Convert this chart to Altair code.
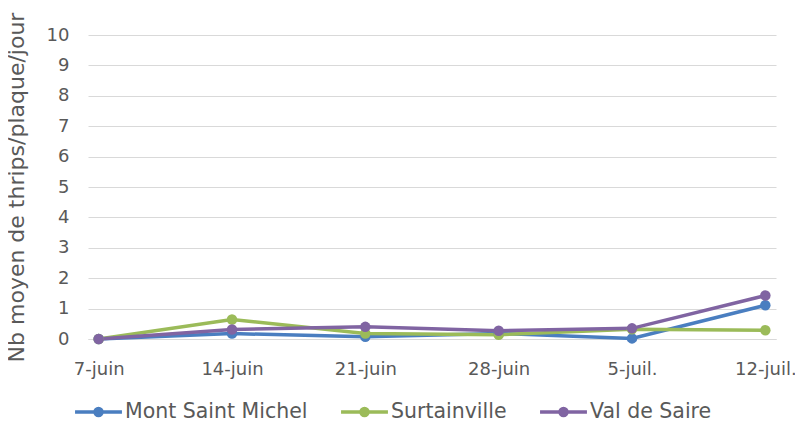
import altair as alt
import pandas as pd

dates = ["7-juin", "14-juin", "21-juin", "28-juin", "5-juil.", "12-juil."]
series_names = ["Mont Saint Michel", "Surtainville", "Val de Saire"]
mont_saint_michel = [0.0, 0.18, 0.07, 0.18, 0.02, 1.11]
surtainville = [0.0, 0.64, 0.18, 0.14, 0.32, 0.29]
val_de_saire = [0.0, 0.31, 0.40, 0.27, 0.35, 1.43]
colors = ["#4A7EC0", "#9BBB59", "#8064A2"]

rows = []
for name, vals in zip(series_names, [mont_saint_michel, surtainville, val_de_saire]):
    for d, v in zip(dates, vals):
        rows.append({"date": d, "serie": name, "value": v})
df = pd.DataFrame(rows)

font = "DejaVu Sans"
legend_symbol = "M-1,0L1,0M-0.15,0a0.15,0.15 0 1,0 0.3,0a0.15,0.15 0 1,0 -0.3,0"

chart = alt.Chart(df).mark_line(
    strokeWidth=3.5,
    point=alt.OverlayMarkDef(size=110, filled=True, opacity=1),
).encode(
    x=alt.X("date:N", sort=dates, title=None,
            scale=alt.Scale(type="point", padding=0.08),
            axis=alt.Axis(labelAngle=0, labelFontSize=18, labelColor="#595959",
                          labelFont=font, ticks=False, domain=True,
                          domainColor="#d9d9d9", labelPadding=21, grid=False)),
    y=alt.Y("value:Q", title="Nb moyen de thrips/plaque/jour",
            scale=alt.Scale(domain=[0, 10]),
            axis=alt.Axis(values=list(range(0, 11)), tickCount=11, labelFontSize=18,
                          labelColor="#595959", labelFont=font, ticks=False,
                          domain=False, gridColor="#d9d9d9", labelPadding=19,
                          titleFont=font, titleFontSize=22, titleColor="#595959",
                          titleFontWeight="normal", titlePadding=18)),
    color=alt.Color("serie:N", sort=series_names,
                    scale=alt.Scale(domain=series_names, range=colors),
                    legend=alt.Legend(title=None, orient="none", direction="horizontal",
                                      legendX=-15, legendY=351,
                                      labelFontSize=20.5, labelFont=font, labelColor="#595959",
                                      labelLimit=400,
                                      symbolType=legend_symbol, symbolSize=2200,
                                      symbolStrokeWidth=3.5, columnPadding=26,
                                      labelOffset=1)),
).properties(
    width=688,
    height=304,
    title=alt.TitleParams("Evolution des captures de thrips - 2018", fontSize=22,
                          font=font, color="#595959", fontWeight="normal", offset=40),
    autosize=alt.AutoSizeParams(type="none"),
    padding={"left": 80, "top": 27, "right": 19, "bottom": 82},
).configure_view(stroke=None)

chart.save("out.html", embed_options={"renderer": "svg", "actions": False})
